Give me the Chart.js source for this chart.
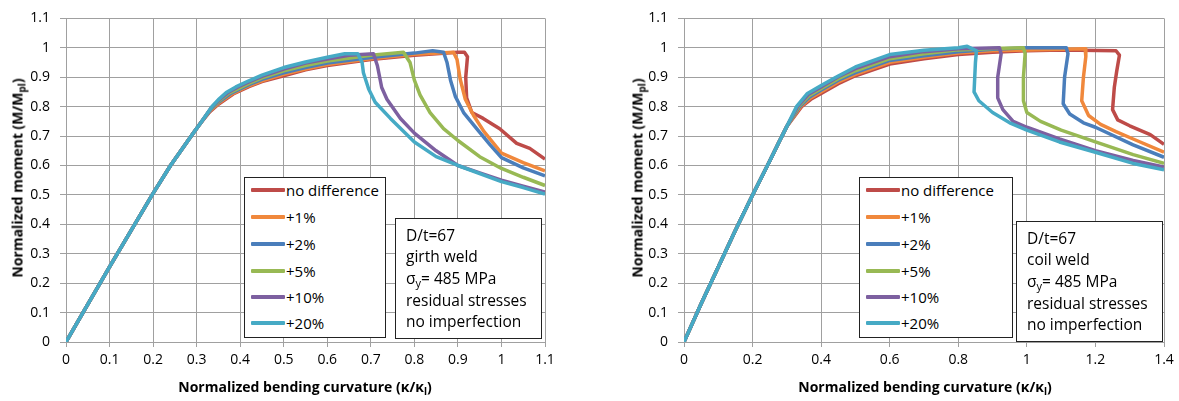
<!DOCTYPE html>
<html>
<head>
<meta charset="utf-8">
<script src="https://cdn.jsdelivr.net/npm/chart.js@4.4.1/dist/chart.umd.min.js"></script>
<style>
  body { margin: 0; background: #fff; font-family: "Open Sans", sans-serif; color: #000; }
  #wrap { position: relative; width: 1179px; height: 401px; overflow: hidden; }
  .box { position: absolute; }
  .ytitle, .xtitle { position: absolute; font-weight: bold; font-size: 14px; white-space: nowrap; }
  .ytitle { transform: translate(-50%, -50%) rotate(-90deg); }
  .xtitle { transform: translate(-50%, -50%); }
  .legend, .note { position: absolute; border: 1.5px solid #222; background: #fff; box-sizing: border-box; }
  .legend { font-size: 15px; }
  .note { font-size: 15.5px; }
  .row { position: absolute; white-space: nowrap; transform: translateY(-50%); }
  .swatch { position: absolute; height: 4px; border-radius: 1px; transform: translateY(-50%); }
  sub { font-size: 10px; vertical-align: -3px; line-height: 0; }
  .note sub { font-size: 11px; }
</style>
</head>
<body>
<div id="wrap">
  <div class="box" style="left:0;top:0;width:590px;height:401px;"><canvas id="girth"></canvas></div>
  <div class="box" style="left:600px;top:0;width:579px;height:401px;"><canvas id="coil"></canvas></div>
</div>
<script>
// series names and colours (same for both panels)
const seriesLabels = ['no difference', '+1%', '+2%', '+5%', '+10%', '+20%'];
const seriesColors = ['#BE4B48', '#F0883C', '#4A7EBB', '#98B954', '#7D60A0', '#46AAC5'];

// left panel: girth weld, kappa/kappa_l vs M/M_pl
const girthRise = [[0, 0], [0.05, 0.128], [0.1, 0.255], [0.15, 0.38], [0.2, 0.505], [0.24, 0.6], [0.29, 0.705], [0.31, 0.746]];
const girthNoDiff = [[0.33, 0.782], [0.35, 0.808], [0.384, 0.843], [0.42, 0.868], [0.45, 0.885], [0.5, 0.905], [0.55, 0.925], [0.6, 0.94], [0.7, 0.96], [0.8, 0.975], [0.9, 0.985], [0.915, 0.985], [0.922, 0.97], [0.918, 0.9], [0.92, 0.83], [0.932, 0.78], [0.958, 0.76], [0.996, 0.725], [1.035, 0.675], [1.065, 0.658], [1.1, 0.622]];
const girthPlus1 = [[0.331, 0.786], [0.35, 0.811], [0.38, 0.842], [0.42, 0.871], [0.45, 0.888], [0.5, 0.91], [0.55, 0.928], [0.6, 0.943], [0.7, 0.963], [0.8, 0.978], [0.89, 0.985], [0.898, 0.96], [0.905, 0.895], [0.917, 0.825], [0.936, 0.77], [0.96, 0.715], [1.0, 0.642], [1.05, 0.61], [1.1, 0.582]];
const girthPlus2 = [[0.332, 0.79], [0.35, 0.815], [0.377, 0.844], [0.42, 0.875], [0.45, 0.893], [0.5, 0.915], [0.55, 0.933], [0.6, 0.948], [0.7, 0.967], [0.8, 0.982], [0.842, 0.99], [0.867, 0.985], [0.875, 0.95], [0.883, 0.89], [0.894, 0.835], [0.913, 0.78], [0.943, 0.725], [0.974, 0.67], [1.0, 0.627], [1.05, 0.592], [1.1, 0.565]];
const girthPlus5 = [[0.333, 0.794], [0.35, 0.818], [0.374, 0.846], [0.42, 0.879], [0.45, 0.898], [0.5, 0.922], [0.55, 0.94], [0.6, 0.955], [0.7, 0.975], [0.775, 0.985], [0.79, 0.95], [0.8, 0.89], [0.813, 0.84], [0.836, 0.78], [0.867, 0.725], [0.9, 0.685], [0.95, 0.63], [1.0, 0.59], [1.05, 0.56], [1.1, 0.532]];
const girthPlus10 = [[0.334, 0.797], [0.35, 0.821], [0.371, 0.847], [0.395, 0.867], [0.42, 0.884], [0.45, 0.903], [0.5, 0.928], [0.55, 0.948], [0.6, 0.962], [0.65, 0.975], [0.706, 0.98], [0.715, 0.94], [0.725, 0.865], [0.737, 0.825], [0.768, 0.76], [0.8, 0.71], [0.85, 0.65], [0.9, 0.6], [0.95, 0.575], [1.0, 0.55], [1.05, 0.53], [1.1, 0.51]];
const girthPlus20 = [[0.335, 0.8], [0.35, 0.824], [0.368, 0.848], [0.39, 0.867], [0.42, 0.888], [0.45, 0.907], [0.5, 0.933], [0.55, 0.952], [0.6, 0.968], [0.64, 0.98], [0.67, 0.98], [0.68, 0.95], [0.683, 0.915], [0.695, 0.86], [0.71, 0.815], [0.745, 0.76], [0.8, 0.68], [0.85, 0.63], [0.9, 0.6], [1.0, 0.545], [1.05, 0.525], [1.1, 0.503]];

// right panel: coil weld
const coilRise = [[0, 0], [0.05, 0.13], [0.1, 0.255], [0.15, 0.38], [0.2, 0.5], [0.25, 0.615], [0.275, 0.675], [0.3, 0.733]];
const coilNoDiff = [[0.343, 0.8], [0.37, 0.825], [0.4, 0.845], [0.45, 0.878], [0.5, 0.905], [0.6, 0.945], [0.7, 0.963], [0.8, 0.977], [0.9, 0.985], [1.0, 0.99], [1.1, 0.993], [1.26, 0.99], [1.27, 0.975], [1.262, 0.92], [1.255, 0.865], [1.25, 0.79], [1.265, 0.755], [1.3, 0.735], [1.36, 0.705], [1.4, 0.672]];
const coilPlus1 = [[0.34, 0.8], [0.368, 0.829], [0.4, 0.851], [0.45, 0.884], [0.5, 0.91], [0.6, 0.951], [0.7, 0.968], [0.8, 0.982], [0.9, 0.99], [1.0, 0.993], [1.17, 0.997], [1.172, 0.97], [1.165, 0.9], [1.16, 0.82], [1.18, 0.77], [1.215, 0.74], [1.26, 0.715], [1.31, 0.69], [1.4, 0.645]];
const coilPlus2 = [[0.337, 0.8], [0.366, 0.833], [0.4, 0.857], [0.45, 0.89], [0.5, 0.916], [0.6, 0.957], [0.7, 0.973], [0.8, 0.987], [0.9, 0.995], [1.0, 1.0], [1.115, 1.0], [1.12, 0.98], [1.11, 0.9], [1.106, 0.81], [1.125, 0.775], [1.165, 0.745], [1.2, 0.73], [1.31, 0.67], [1.4, 0.628]];
const coilPlus5 = [[0.334, 0.8], [0.364, 0.837], [0.4, 0.862], [0.45, 0.895], [0.5, 0.922], [0.6, 0.963], [0.7, 0.98], [0.8, 0.993], [0.9, 0.998], [0.99, 1.0], [0.995, 0.98], [0.99, 0.9], [0.99, 0.82], [1.0, 0.78], [1.04, 0.75], [1.1, 0.72], [1.2, 0.68], [1.31, 0.637], [1.4, 0.607]];
const coilPlus10 = [[0.331, 0.8], [0.362, 0.841], [0.4, 0.867], [0.45, 0.902], [0.5, 0.929], [0.6, 0.97], [0.7, 0.987], [0.8, 0.997], [0.92, 1.0], [0.925, 0.98], [0.915, 0.9], [0.915, 0.83], [0.93, 0.79], [0.96, 0.75], [1.0, 0.73], [1.095, 0.69], [1.2, 0.65], [1.31, 0.617], [1.4, 0.595]];
const coilPlus20 = [[0.328, 0.8], [0.36, 0.845], [0.4, 0.872], [0.443, 0.9], [0.5, 0.935], [0.6, 0.977], [0.7, 0.992], [0.8, 1.0], [0.826, 1.005], [0.853, 0.99], [0.85, 0.95], [0.846, 0.85], [0.86, 0.82], [0.9, 0.78], [0.95, 0.745], [1.0, 0.72], [1.095, 0.68], [1.2, 0.645], [1.31, 0.607], [1.4, 0.585]];

const girthNote = ['D/t=67', 'girth weld', 'σ<sub>y</sub>= 485 MPa', 'residual stresses', 'no imperfection'];
const coilNote = ['D/t=67', 'coil weld', 'σ<sub>y</sub>= 485 MPa', 'residual stresses', 'no imperfection'];

const girthSeries = [girthNoDiff, girthPlus1, girthPlus2, girthPlus5, girthPlus10, girthPlus20];
const coilSeries = [coilNoDiff, coilPlus1, coilPlus2, coilPlus5, coilPlus10, coilPlus20];

const gridGrey = '#A0A0A0';
const fmt = (v) => String(Math.round(v * 10) / 10);

function makeChart(id, rise, series, xMax, xStep, yAxisWidth, padRight) {
    const ctx = document.getElementById(id).getContext('2d');
    return new Chart(ctx, {
        type: 'scatter',
        data: {
            datasets: series.map((pts, i) => ({
                label: seriesLabels[i],
                data: rise.concat(pts).map((p) => ({ x: p[0], y: p[1] })),
                showLine: true,
                borderColor: seriesColors[i],
                backgroundColor: seriesColors[i],
                borderWidth: 3.5,
                pointRadius: 0,
                tension: 0,
                borderJoinStyle: 'round',
                order: series.length - i,
            })),
        },
        options: {
            responsive: true,
            maintainAspectRatio: false,
            animation: false,
            layout: { padding: { left: 0, right: padRight, top: 15, bottom: 0 } },
            plugins: { legend: { display: false }, tooltip: { enabled: false } },
            scales: {
                x: {
                    type: 'linear',
                    min: 0,
                    max: xMax,
                    ticks: { stepSize: xStep, callback: fmt, color: '#000', padding: 5, maxRotation: 0,
                        font: { family: 'Open Sans', size: 14 } },
                    grid: { color: gridGrey, tickLength: 5, lineWidth: 1 },
                    border: { color: gridGrey },
                    afterFit: (scale) => { scale.height = 59; },
                },
                y: {
                    min: 0,
                    max: 1.1,
                    ticks: { stepSize: 0.1, callback: fmt, color: '#000', padding: 10,
                        font: { family: 'Open Sans', size: 14 } },
                    grid: { color: gridGrey, tickLength: 6, lineWidth: 1 },
                    border: { color: gridGrey },
                    afterFit: (scale) => { scale.width = yAxisWidth; },
                },
            },
        },
    });
}

makeChart('girth', girthRise, girthSeries, 1.1, 0.1, 66, 45);
makeChart('coil', coilRise, coilSeries, 1.4, 0.2, 84, 15);

// titles, legend and note boxes as html on top of the canvases
const wrap = document.getElementById('wrap');
function addDiv(cls, style, html) {
    const d = document.createElement('div');
    d.className = cls;
    d.style.cssText = style;
    d.innerHTML = html;
    wrap.appendChild(d);
    return d;
}

function addPanelText(p) {
    addDiv('ytitle', `left:${p.yTitleX}px;top:178px;`, 'Normalized moment (M/M<sub>pl</sub>)');
    addDiv('xtitle', `left:${p.xTitleX}px;top:386px;`, 'Normalized bending curvature (κ/κ<sub>l</sub>)');

    const leg = addDiv('legend', `left:${p.legX}px;top:177px;width:${p.legW}px;height:161px;`, '');
    const rowYs = [12, 39, 66, 93, 119, 145];
    seriesLabels.forEach((lab, i) => {
        const sw = document.createElement('div');
        sw.className = 'swatch';
        sw.style.cssText = `left:6px;top:${rowYs[i]}px;width:34px;background:${seriesColors[i]};`;
        leg.appendChild(sw);
        const t = document.createElement('div');
        t.className = 'row';
        t.style.cssText = `left:41px;top:${rowYs[i]}px;`;
        t.textContent = lab;
        leg.appendChild(t);
    });

    const note = addDiv('note', `left:${p.noteX}px;top:${p.noteY}px;width:${p.noteW}px;height:121px;`, '');
    const noteYs = [16, 37, 59, 81, 102];
    p.note.forEach((line, i) => {
        const t = document.createElement('div');
        t.className = 'row';
        t.style.cssText = `left:10px;top:${noteYs[i]}px;`;
        t.innerHTML = line;
        note.appendChild(t);
    });
}

addPanelText({ yTitleX: 17, xTitleX: 305, legX: 244, legW: 142, noteX: 395, noteY: 218, noteW: 147, note: girthNote });
addPanelText({ yTitleX: 637, xTitleX: 925, legX: 859, legW: 154, noteX: 1016, noteY: 221, noteW: 147, note: coilNote });
</script>
</body>
</html>
